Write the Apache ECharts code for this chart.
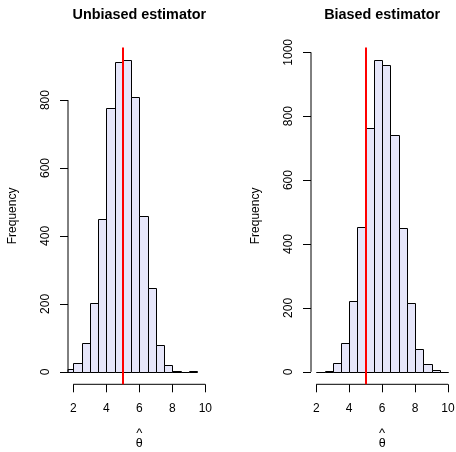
<!DOCTYPE html>
<html>
<head>
<meta charset="utf-8">
<script src="https://cdn.jsdelivr.net/npm/echarts@6/dist/echarts.min.js"></script>
<style>
  html, body { margin: 0; padding: 0; background: #fff; }
  #chart { width: 456px; height: 452px; }
</style>
</head>
<body>
<div id="chart"></div>
<script>
// histogram data, bins of width 0.5
var binWidth = 0.5;
var thetaTrue = 5;
var binStartsUnbiased = [1.5, 2, 2.5, 3, 3.5, 4, 4.5, 5, 5.5, 6, 6.5, 7, 7.5, 8, 8.5, 9];
var countsUnbiased = [7, 25, 85, 204, 450, 778, 911, 918, 809, 459, 246, 80, 19, 3, 0, 1];
var binStartsBiased = [2, 2.5, 3, 3.5, 4, 4.5, 5, 5.5, 6, 6.5, 7, 7.5, 8, 8.5, 9, 9.5];
var countsBiased = [1, 3, 27, 91, 221, 452, 762, 976, 959, 741, 449, 216, 73, 26, 6, 1];
var xTicks = [2, 4, 6, 8, 10];
var yTicksUnbiased = [0, 200, 400, 600, 800];
var yTicksBiased = [0, 200, 400, 600, 800, 1000];
var titles = ['Unbiased estimator', 'Biased estimator'];

var FONT = 'Liberation Sans';
var xLim = [2, 10];
var xPad = 0.04 * (xLim[1] - xLim[0]);
var xMin = xLim[0] - xPad, xMax = xLim[1] + xPad;

var chart = echarts.init(document.getElementById('chart'));

function renderBar(params, api) {
    var x0 = api.value(0);
    var c = api.value(1);
    var p0 = api.coord([x0, c]);
    var p1 = api.coord([x0 + binWidth, 0]);
    var l = Math.round(p0[0]) + 0.5, r = Math.round(p1[0]) + 0.5;
    var t = Math.round(p0[1]) + 0.5, b = Math.round(p1[1]) + 0.5;
    var cs = params.coordSys;
    var rect = echarts.graphic.clipRectByRect(
        {x: l, y: t, width: r - l, height: b - t},
        {x: cs.x, y: cs.y, width: cs.width, height: cs.height});
    if (!rect) return;
    return {
        type: 'rect',
        shape: rect,
        style: {fill: '#E6E6FA', stroke: '#000', lineWidth: 1}
    };
}

var panels = [
    {starts: binStartsUnbiased, counts: countsUnbiased, yTicks: yTicksUnbiased, left: 68, width: 142.6},
    {starts: binStartsBiased, counts: countsBiased, yTicks: yTicksBiased, left: 311, width: 142.3}
];

var grids = [], xAxes = [], yAxes = [], series = [], titleOpts = [];

panels.forEach(function (p, i) {
    var ymax = Math.max.apply(null, p.counts);
    var yMin = -0.04 * ymax, yMax = 1.04 * ymax;
    grids.push({left: p.left, top: 47.5, width: p.width, height: 336.8,
        containLabel: false, outerBoundsMode: 'none'});
    titleOpts.push({
        text: titles[i],
        left: p.left + p.width / 2,
        textAlign: 'center',
        top: 8,
        padding: 0,
        textStyle: {fontFamily: FONT, fontSize: 14.4, fontWeight: 'bold', color: '#000'}
    });
    xAxes.push({
        gridIndex: i,
        type: 'value',
        min: xMin,
        max: xMax,
        axisLine: {show: false, onZero: false},
        splitLine: {show: false},
        axisTick: {show: true, inside: false, customValues: xTicks, length: 8, lineStyle: {color: '#000', width: 1}},
        axisLabel: {customValues: xTicks, margin: 18, fontFamily: FONT, fontSize: 12, color: '#000',
            formatter: function (v) { return String(v); }},
        name: '{h|^}\n{t|θ}',
        nameLocation: 'middle',
        nameGap: 45,
        nameTextStyle: {
            fontFamily: FONT, color: '#000',
            rich: {
                h: {fontFamily: FONT, fontSize: 13, lineHeight: 8, color: '#000'},
                t: {fontFamily: FONT, fontSize: 12.5, lineHeight: 12, color: '#000'}
            }
        }
    });
    yAxes.push({
        gridIndex: i,
        type: 'value',
        min: yMin,
        max: yMax,
        axisLine: {show: false, onZero: false},
        splitLine: {show: false},
        axisTick: {show: true, inside: false, customValues: p.yTicks, length: 8, lineStyle: {color: '#000', width: 1}},
        axisLabel: {customValues: p.yTicks, rotate: 90, margin: 16, fontFamily: FONT, fontSize: 12, color: '#000',
            formatter: function (v) { return String(v); }},
        name: 'Frequency',
        nameLocation: 'middle',
        nameGap: 49,
        nameTextStyle: {fontFamily: FONT, fontSize: 12, color: '#000'}
    });
    var barData = p.starts.map(function (s, k) { return [s, p.counts[k]]; });
    series.push({
        type: 'custom',
        xAxisIndex: i,
        yAxisIndex: i,
        renderItem: renderBar,
        data: barData,
        silent: true,
        z: 2
    });
    // R-style axis lines that only span the tick range
    series.push({
        type: 'line',
        xAxisIndex: i,
        yAxisIndex: i,
        data: [[xTicks[0], yMin], [xTicks[xTicks.length - 1], yMin]],
        symbol: 'none',
        clip: false,
        silent: true,
        lineStyle: {color: '#000', width: 1},
        z: 4
    });
    series.push({
        type: 'line',
        xAxisIndex: i,
        yAxisIndex: i,
        data: [[xMin, p.yTicks[0]], [xMin, p.yTicks[p.yTicks.length - 1]]],
        symbol: 'none',
        clip: false,
        silent: true,
        lineStyle: {color: '#000', width: 1},
        z: 4,
        // true value of theta
        markLine: {
            silent: true,
            symbol: 'none',
            label: {show: false},
            lineStyle: {color: '#FF0000', width: 2, type: 'solid'},
            data: [{xAxis: thetaTrue}]
        }
    });
});

chart.setOption({
    animation: false,
    backgroundColor: '#fff',
    title: titleOpts,
    grid: grids,
    xAxis: xAxes,
    yAxis: yAxes,
    series: series
});
</script>
</body>
</html>
